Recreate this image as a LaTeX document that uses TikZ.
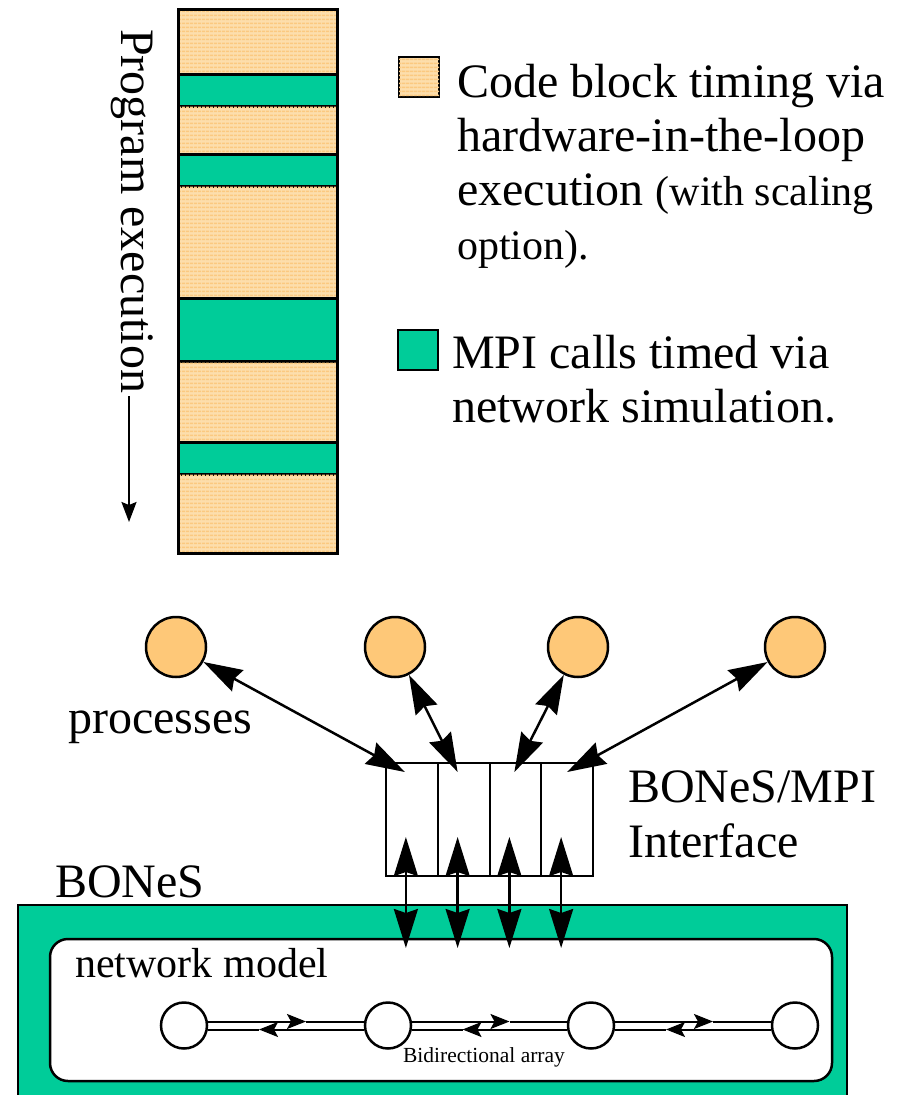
\documentclass[tikz,border=0pt]{standalone}
\usepackage{fontspec}
\setmainfont{Liberation Serif}
\usetikzlibrary{arrows.meta}
\usetikzlibrary{patterns.meta}
\usetikzlibrary{calc}

\definecolor{laranja}{RGB}{253,222,172}
\definecolor{laranjaesc}{RGB}{251,201,128}
\definecolor{laranjaproc}{RGB}{254,200,120}
\definecolor{verde}{RGB}{0,204,153}

\begin{document}
\begin{tikzpicture}[x=1pt,y=-1pt]
  \useasboundingbox (0,0) rectangle (904,1095);

  %--------------------------------------------
  % Tamanhos de fonte
  %--------------------------------------------
  \def\fs{\fontsize{48}{54}\selectfont}    % texto principal
  \def\fsm{\fontsize{42}{48}\selectfont}   % texto menor
  \def\fsp{\fontsize{21.5}{24}\selectfont} % legenda do arranjo

  %--------------------------------------------
  % Estilos
  %--------------------------------------------
  \tikzstyle{codigo} = [
    draw, line width=3pt, fill=laranja,               % bloco de código listrado
    postaction={pattern={Lines[angle=0,distance=4pt,line width=2pt]},
                pattern color=laranjaesc}
  ]
  \tikzstyle{mpi} = [draw, line width=3pt, fill=verde] % chamada MPI
  \tikzstyle{legenda} = [rectangle, minimum size=40pt, inner sep=0, outer sep=0]
  \tikzstyle{texto} = [anchor=base west, inner sep=0, font=\fs]
  \tikzstyle{processo} = [
    circle, draw, line width=2.5pt, fill=laranjaproc,
    minimum size=60pt, inner sep=0
  ]
  \tikzstyle{celula} = [
    draw, line width=2pt, fill=white, outer sep=0, inner sep=0,
    minimum width=51.75pt, minimum height=113pt
  ]
  \tikzstyle{no} = [
    circle, draw, line width=2.5pt, fill=white,
    minimum size=46pt, inner sep=0
  ]
  \tikzstyle{seta} = [
    line width=2.5pt,
    {Stealth[length=39pt,width=24pt,inset=4pt]}-{Stealth[length=39pt,width=24pt,inset=4pt]}
  ]
  \tikzstyle{ligacao} = [line width=2pt]
  \tikzstyle{pontaliga} = [-{Stealth[length=19pt,width=15pt,inset=4pt]}]

  %--------------------------------------------
  % Barra de execução do programa
  %--------------------------------------------
  \foreach \ya/\yb/\tipo in {9/74/codigo,74/106/mpi,106/154/codigo,
    154/186/mpi,186/298/codigo,298/361/mpi,361/442/codigo,
    442/474/mpi,474/553/codigo}
  {
    \draw[\tipo] (178,\ya) rectangle (337,\yb);
  }
  \draw[line width=3pt] (178,9) rectangle (337,553);

  % rótulo girado com seta
  \node[texto, rotate=-90] (prog) at (121,29) {Program execution};
  \coordinate (fimprog) at (129,522);
  \draw[line width=2pt, -{Stealth[length=20pt,width=15pt,inset=3pt]}]
    ([xshift=8pt,yshift=-3pt]prog.base east) -- (fimprog);

  %--------------------------------------------
  % Legenda
  %--------------------------------------------
  \node[legenda, draw, line width=2.5pt, fill=laranja,
    postaction={pattern={Lines[angle=0,distance=4pt,line width=2pt]},
                pattern color=laranjaesc}] (legcod) at (419,77) {};
  \node[legenda, draw, line width=2.5pt, fill=verde] (legmpi) at (418,350) {};

  \foreach [count=\i] \linha in {Code block timing via,hardware-in-the-loop,
    {execution {\fsm(with scaling}},{\fsm option).}}
  {
    \node[texto] (cod\i) at (457,{97+(\i-1)*54}) {\linha};
  }
  \foreach [count=\i] \linha in {MPI calls timed via,network simulation.}
  {
    \node[texto] (mpi\i) at (452,{368+(\i-1)*54}) {\linha};
  }

  %--------------------------------------------
  % Ambiente BONeS e modelo de rede
  %--------------------------------------------
  \filldraw[line width=2.5pt, fill=verde] (18,905) rectangle (847,1100);
  \filldraw[line width=2.5pt, fill=white, rounded corners=18pt]
    (50,939) rectangle (832,1081);
  \node[texto] (bones) at (55,897) {BONeS};
  \node[texto, font=\fsm] (modelo) at (75,977) {network model};

  \foreach [count=\i] \xn in {184,388,591,795}
  {
    \node[no] (n\i) at (\xn,1025.5) {};
  }
  \foreach \i/\j in {1/2,2/3,3/4}
  {
    \coordinate (meio\i) at ($(n\i)!0.5!(n\j)$);
    \coordinate (dir\i) at ([xshift=20pt,yshift=4pt]meio\i);
    \coordinate (esq\i) at ([xshift=-27pt,yshift=-4pt]meio\i);
    \draw[ligacao, pontaliga] ([yshift=4pt]n\i.east) -- (dir\i);
    \draw[ligacao] (dir\i) -- ([yshift=4pt]n\j.west);
    \draw[ligacao, pontaliga] ([yshift=-4pt]n\j.west) -- (esq\i);
    \draw[ligacao] (esq\i) -- ([yshift=-4pt]n\i.east);
  }
  \node[anchor=base, inner sep=0, font=\fsp] (arranjo) at (484,1062)
    {Bidirectional array};

  %--------------------------------------------
  % Processos e interface BONeS/MPI
  %--------------------------------------------
  \foreach [count=\i] \xp in {176,395,578,795}
  {
    \node[processo] (p\i) at (\xp,647) {};
  }
  \node[texto] (procs) at (68,733) {processes};

  \foreach \i in {1,...,4}
  {
    \node[celula] (if\i) at ({386+(\i-0.5)*51.75},819.5) {};
  }
  \node[texto] (interf1) at (628,802) {BONeS/MPI};
  \node[texto] (interf2) at (628,857) {Interface};

  % setas processo <-> interface
  \foreach \i/\dx in {1/-7,2/-6,3/-1,4/0}
  {
    \coordinate (topo\i) at ([xshift=\dx pt,yshift=-9pt]if\i.north);
    \draw[seta] (p\i) -- (topo\i);
  }

  % setas interface <-> modelo de rede
  \foreach \i in {1,...,4}
  {
    \coordinate (cima\i) at ([xshift=-6pt,yshift=39pt]if\i.south);
    \coordinate (baixo\i) at ([yshift=-111pt]cima\i);
    \draw[seta] (cima\i) -- (baixo\i);
  }
\end{tikzpicture}
\end{document}
